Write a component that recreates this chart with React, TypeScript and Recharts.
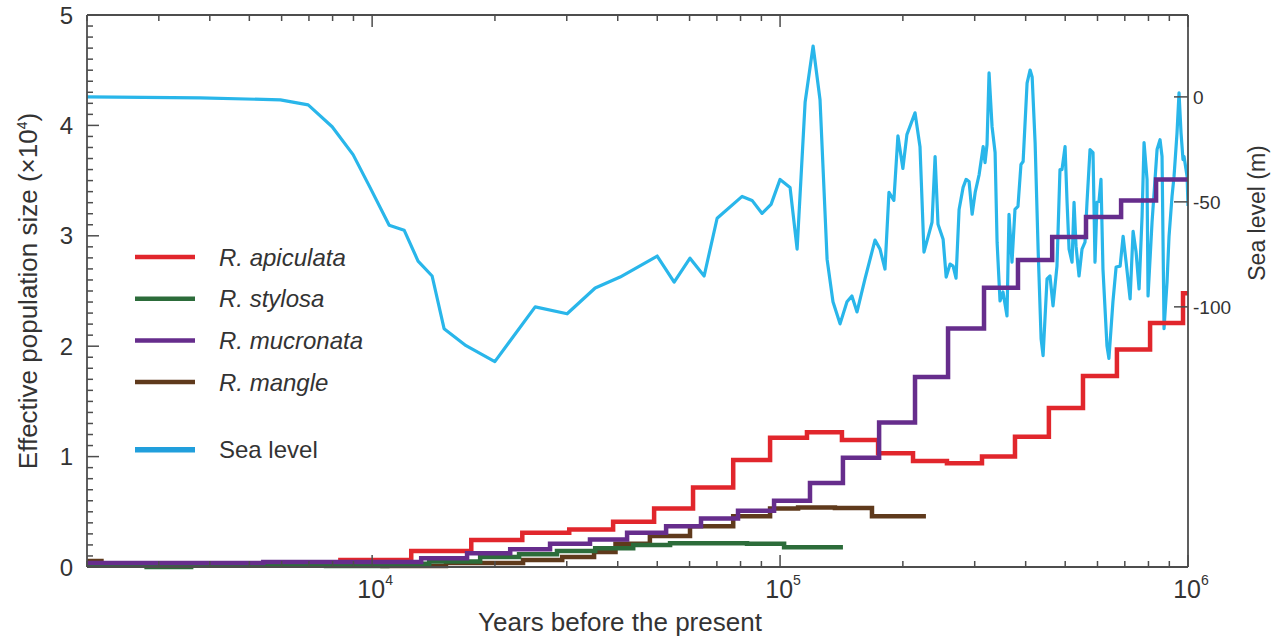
import { LineChart, Line, XAxis, YAxis, ReferenceLine, Legend } from 'recharts';

const AXIS = '#4d4d4d';
const TEXT = '#333333';
const FONT = '"Liberation Sans", Arial, Helvetica, sans-serif';

const RED = '#e1262c';
const GREEN = '#2c6c3a';
const PURPLE = '#662d8c';
const BROWN = '#5f3a1c';
const SEA = '#29b6ea';

// years before present where each PSMC step starts, and Ne (x10^4) after it
const apiculataYears = [2000, 8360, 12470, 17500, 23340, 30420, 38970, 49120, 61190, 76760, 94520, 116400, 141800, 173900, 211800, 256500, 312600, 376600, 456000, 552800, 669500, 807300, 972300, 1000000];
const apiculataNe = [0.03, 0.063, 0.145, 0.245, 0.31, 0.34, 0.41, 0.53, 0.72, 0.97, 1.17, 1.22, 1.15, 1.03, 0.96, 0.94, 1.0, 1.18, 1.44, 1.73, 1.97, 2.21, 2.48, 2.48];

const stylosaYears = [2000, 2800, 3600, 7710, 10890, 13800, 18400, 22920, 28390, 35220, 43650, 53750, 83000, 102300, 142600];
const stylosaNe = [0.025, 0.0, 0.025, 0.01, 0.03, 0.05, 0.09, 0.115, 0.145, 0.17, 0.2, 0.215, 0.21, 0.18, 0.18];

const mucronataYears = [2000, 5410, 13190, 17090, 21800, 27300, 34200, 42170, 52560, 64000, 78870, 96670, 118400, 142600, 174900, 214200, 258100, 316200, 383000, 464600, 562300, 685500, 835100, 1000000];
const mucronataNe = [0.036, 0.045, 0.08, 0.125, 0.16, 0.21, 0.25, 0.31, 0.37, 0.44, 0.51, 0.6, 0.76, 0.99, 1.31, 1.72, 2.16, 2.53, 2.78, 2.99, 3.17, 3.32, 3.51, 3.51];

const mangleYears = [2000, 2170, 10600, 15170, 23440, 29240, 35000, 39500, 47960, 60150, 76760, 94520, 110700, 136300, 168000, 227800];
const mangleNe = [0.055, 0.025, 0.01, 0.036, 0.063, 0.09, 0.135, 0.21, 0.28, 0.37, 0.46, 0.53, 0.54, 0.535, 0.46, 0.46];

// sea level (m) against years before present
const seaYears = [
  2000, 3786, 5957, 6970, 7980, 8980, 9880, 11010, 11980, 12960, 14030, 15010, 16990, 19990, 25100, 30060,
  35220, 40540, 49980, 55000, 60150, 65140, 70100, 80720, 85380, 90340, 95050, 100000, 105800, 110100, 115200,
  120500, 125300, 130400, 134800, 140300, 145900, 150000, 154400, 161500, 170900, 175800, 180800, 184900, 190100,
  194500, 200000, 204600, 214200, 220300, 225300, 235800, 239900, 243900, 251000, 255400, 261100, 265600, 270000,
  274700, 281000, 285800, 290600, 295700, 300800, 307600, 314700, 318000, 321600, 325300, 330900, 336600, 340400,
  346100, 352000, 360000, 364100, 370300, 376600, 383000, 389500, 394300, 403200, 410100, 414900, 421900, 429100,
  436400, 441300, 451300, 458900, 466800, 477300, 485500, 491100, 499600, 505300, 511000, 519700, 525600, 531500,
  540600, 549800, 559200, 565500, 575200, 585000, 591600, 598300, 605100, 611900, 618800, 632900, 640000, 654600,
  666500, 681700, 693300, 705100, 721200, 733500, 746000, 758700, 771600, 780300, 793600, 798100, 816300, 830200,
  839700, 854000, 863700, 873500, 888400, 898500, 913800, 924200, 939900, 950600, 961400, 972300, 977800, 995000,
  1000000,
];
const seaLevel = [
  0, -0.5, -1.4, -3.8, -14.2, -27.5, -43.1, -61.1, -63.5, -78.2, -85.3, -110.4, -118.5, -126.1, -100, -103.3,
  -91, -85.8, -75.8, -88.2, -76.8, -85.3, -57.8, -47.4, -49.3, -55.5, -51.2, -39.3, -43.1, -72.5, -2.4,
  24.2, -1.4, -77.3, -97.6, -108.1, -97.6, -94.8, -102.4, -86.7, -68.2, -72.5, -82, -45.5, -49.3,
  -18.5, -34.1, -18, -7.6, -23.7, -73.9, -59.7, -28.4, -60.7, -67.8, -85.8, -79.6, -80.6, -86.3,
  -53.6, -43.1, -39.3, -40.3, -55.9, -45.5, -37, -23.7, -31.3, -22.7, 11.4, -14.2, -26.5, -69.2,
  -97.2, -92.9, -104.3, -55.9, -78.7, -53.6, -52.1, -32.2, -30.8, 6.6, 12.8, 9.5, -21.8, -72.5,
  -115.2, -123.2, -86.7, -85.3, -99.5, -80.6, -34.6, -34.6, -23.7, -50.2, -72.5, -78.7, -50.2, -71.1,
  -85.3, -72.5, -69.2, -50.2, -25.1, -26.5, -78.7, -50.2, -49.8, -39.3, -82, -118.5, -124.6, -97.6,
  -81, -80.6, -66.4, -78.7, -96.2, -64, -73.9, -91.5, -56.9, -21.8, -39.3, -94.8, -59.7, -39.3,
  -25.1, -20.4, -28.4, -110.4, -88.2, -66.4, -47.4, -37.9, -17.1, 1.9, -17.1, -29.9, -28.4, -37.9,
  -52,
];

const popMajorTicks = [0, 1, 2, 3, 4, 5];
const seaTicks = [0, -50, -100];
const decades = [1000, 10000, 100000];

const popTicks: number[] = [];
popMajorTicks.forEach((t) => {
  for (let k = 0; k < 10; k++) if (t + k / 10 <= 5) popTicks.push(Math.round((t + k / 10) * 10) / 10);
});
const yearTicks: number[] = [];
decades.forEach((d) => {
  for (let m = 1; m < 10; m++) if (d * m >= 2000) yearTicks.push(d * m);
});
yearTicks.push(1000000);

const zip = (years: number[], ne: number[]) => years.map((year, i) => ({ year, ne: ne[i] }));
const seaData = seaYears.map((year, i) => ({ year, level: seaLevel[i] }));

const legendRows = [
  { name: 'R. apiculata', color: RED, italic: true, w: 4.5 },
  { name: 'R. stylosa', color: GREEN, italic: true, w: 4.5 },
  { name: 'R. mucronata', color: PURPLE, italic: true, w: 4.5 },
  { name: 'R. mangle', color: BROWN, italic: true, w: 4.5 },
  { name: 'Sea level', color: '#219fdc', italic: false, w: 5.5 },
];

const PLOT_TOP = 15;

const PopTick = ({ x, y, payload }: any) => {
  const v = payload.value;
  const major = popMajorTicks.includes(v);
  return (
    <g>
      <line x1={x} x2={x + (major ? 12 : 6)} y1={y} y2={y} stroke={AXIS} strokeWidth={1.5} />
      {major && (
        <text x={x - 14} y={y} dy="0.36em" textAnchor="end" fontSize={24} fill={TEXT} fontFamily={FONT}>
          {v}
        </text>
      )}
    </g>
  );
};

const SeaTick = ({ x, y, payload }: any) => (
  <g>
    <line x1={x - 14} x2={x} y1={y} y2={y} stroke={AXIS} strokeWidth={1.5} />
    <text x={x + 5} y={y} dy="0.36em" textAnchor="start" fontSize={19} fill={TEXT} fontFamily={FONT}>
      {payload.value}
    </text>
  </g>
);

const YearTick = ({ x, y, payload }: any) => {
  const v = payload.value;
  const exp = Math.round(Math.log10(v));
  const major = Math.abs(v - 10 ** exp) < 1e-6 * v;
  const len = major ? 12 : 6;
  return (
    <g>
      <line x1={x} x2={x} y1={y} y2={y - len} stroke={AXIS} strokeWidth={1.5} />
      <line x1={x} x2={x} y1={PLOT_TOP} y2={PLOT_TOP + len} stroke={AXIS} strokeWidth={1.5} />
      {major && (
        <text x={x + 3} y={y + 31} textAnchor="middle" fontSize={25} fill={TEXT} fontFamily={FONT}>
          10<tspan dy={-13} fontSize={14}>{exp}</tspan>
        </text>
      )}
    </g>
  );
};

const LegendBox = () => (
  <svg width={280} height={230} style={{ display: 'block' }}>
    {legendRows.map((r, i) => {
      const y = 22 + i * 41.7 + (i === 4 ? 26 : 0);
      return (
        <g key={r.name}>
          <line x1={5} x2={65} y1={y} y2={y} stroke={r.color} strokeWidth={r.w} />
          <text x={89} y={y} dy="0.36em" fontSize={24} fontStyle={r.italic ? 'italic' : 'normal'} fill={TEXT} fontFamily={FONT}>
            {r.name}
          </text>
        </g>
      );
    })}
  </svg>
);

export default function App() {
  return (
    <div style={{ position: 'absolute', left: 0, top: 0, background: '#fff', fontFamily: FONT }}>
      <LineChart width={1274} height={640} margin={{ top: PLOT_TOP, right: 0, bottom: 0, left: 0 }}>
        <XAxis
          dataKey="year"
          type="number"
          scale="log"
          domain={[2000, 1000000]}
          allowDataOverflow
          ticks={yearTicks}
          interval={0}
          height={73}
          tickSize={0}
          tickMargin={0}
          tickLine={false}
          tick={<YearTick />}
          axisLine={{ stroke: AXIS, strokeWidth: 1.8 }}
          label={() => (
            <text x={620} y={631} textAnchor="middle" fontSize={26} fill={TEXT} fontFamily={FONT}>
              Years before the present
            </text>
          )}
        />
        <YAxis
          yAxisId="pop"
          type="number"
          domain={[0, 5]}
          ticks={popTicks}
          interval={0}
          width={87}
          tickSize={0}
          tickMargin={0}
          tickLine={false}
          tick={<PopTick />}
          axisLine={{ stroke: AXIS, strokeWidth: 1.8 }}
          label={() => (
            <text x={28} y={291} transform="rotate(-90 28 291)" textAnchor="middle" dy="0.36em" fontSize={26} fill={TEXT} fontFamily={FONT}>
              Effective population size (×10<tspan dy={-10} fontSize={14}>4</tspan>
              <tspan dy={10}>)</tspan>
            </text>
          )}
        />
        <YAxis
          yAxisId="sea"
          orientation="right"
          type="number"
          domain={[-223.9, 39]}
          allowDataOverflow
          ticks={seaTicks}
          interval={0}
          width={86}
          tickSize={0}
          tickMargin={0}
          tickLine={false}
          tick={<SeaTick />}
          axisLine={{ stroke: AXIS, strokeWidth: 1.8 }}
          label={() => (
            <text x={1257} y={213} transform="rotate(-90 1257 213)" textAnchor="middle" dy="0.36em" fontSize={23} fill={TEXT} fontFamily={FONT}>
              Sea level (m)
            </text>
          )}
        />
        <ReferenceLine yAxisId="pop" y={5} stroke={AXIS} strokeWidth={1.8} />
        <Legend
          layout="horizontal"
          verticalAlign="middle"
          align="center"
          content={() => <LegendBox />}
          wrapperStyle={{ left: 130, top: 235, width: 280, height: 230 }}
        />
        <Line data={seaData} yAxisId="sea" dataKey="level" type="linear" stroke={SEA} strokeWidth={3.2} dot={false} activeDot={false} isAnimationActive={false} strokeLinejoin="round" />
        <Line data={zip(apiculataYears, apiculataNe)} yAxisId="pop" dataKey="ne" type="stepAfter" stroke={RED} strokeWidth={4.5} dot={false} activeDot={false} isAnimationActive={false} />
        <Line data={zip(mangleYears, mangleNe)} yAxisId="pop" dataKey="ne" type="stepAfter" stroke={BROWN} strokeWidth={4.5} dot={false} activeDot={false} isAnimationActive={false} />
        <Line data={zip(stylosaYears, stylosaNe)} yAxisId="pop" dataKey="ne" type="stepAfter" stroke={GREEN} strokeWidth={4.5} dot={false} activeDot={false} isAnimationActive={false} />
        <Line data={zip(mucronataYears, mucronataNe)} yAxisId="pop" dataKey="ne" type="stepAfter" stroke={PURPLE} strokeWidth={4.5} dot={false} activeDot={false} isAnimationActive={false} />
      </LineChart>
    </div>
  );
}
